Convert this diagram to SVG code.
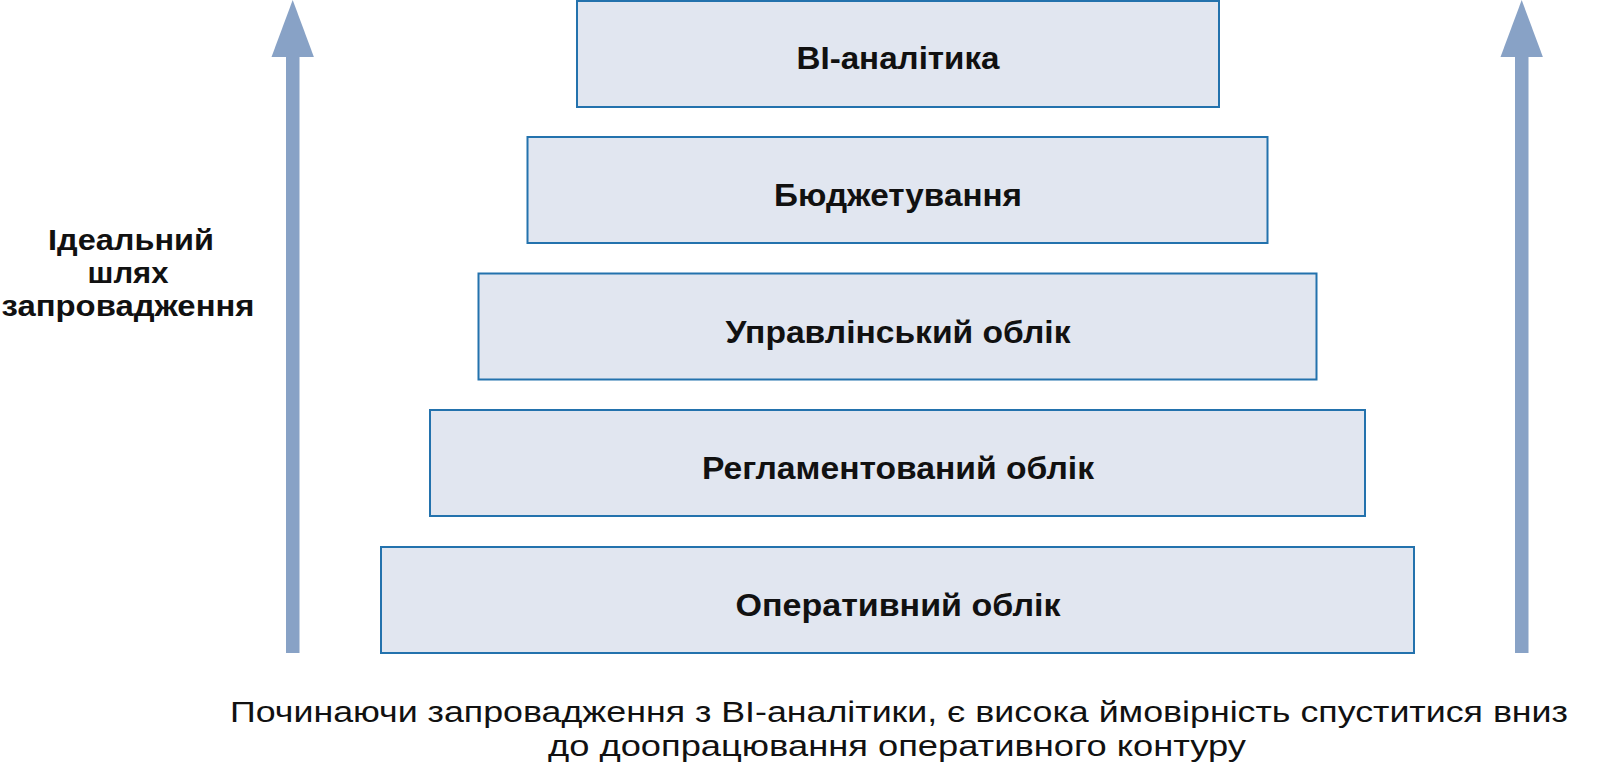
<svg xmlns="http://www.w3.org/2000/svg" width="1600" height="782" viewBox="0 0 1600 782">
  <style>
    .box { fill: #E1E6F0; stroke: #2372AD; stroke-width: 2; }
    .lbl { font-family: "Liberation Sans", Arial, sans-serif; font-size: 31px; font-weight: 700; fill: #111111; text-anchor: middle; }
    .side { font-family: "Liberation Sans", Arial, sans-serif; font-size: 29px; font-weight: 700; fill: #111111; text-anchor: middle; }
    .cap { font-family: "Liberation Sans", Arial, sans-serif; font-size: 29px; font-weight: 400; fill: #111111; text-anchor: middle; }
    .arrow { fill: #88A2C6; }
  </style>
  <rect width="1600" height="782" fill="#ffffff"/>
  <g id="connectors">
    <g id="arrow-left">
      <rect class="arrow" x="286" y="56" width="13.5" height="597"/>
      <polygon class="arrow" points="292.7,0 271.5,57 313.9,57"/>
    </g>
    <g id="arrow-right">
      <rect class="arrow" x="1515" y="56" width="13.5" height="597"/>
      <polygon class="arrow" points="1521.7,0 1500.5,57 1542.9,57"/>
    </g>
  </g>
  <g id="node-bi">
    <rect class="box" x="577" y="1" width="642" height="106"/>
    <text class="lbl" x="898" y="69" textLength="203" lengthAdjust="spacingAndGlyphs">BI-аналітика</text>
  </g>
  <g id="node-budget">
    <rect class="box" x="527.5" y="137" width="740" height="106"/>
    <text class="lbl" x="898" y="206" textLength="248" lengthAdjust="spacingAndGlyphs">Бюджетування</text>
  </g>
  <g id="node-mgmt">
    <rect class="box" x="478.5" y="273.5" width="838" height="106"/>
    <text class="lbl" x="898" y="343" textLength="345" lengthAdjust="spacingAndGlyphs">Управлінський облік</text>
  </g>
  <g id="node-reg">
    <rect class="box" x="430" y="410" width="935" height="106"/>
    <text class="lbl" x="898" y="479" textLength="392" lengthAdjust="spacingAndGlyphs">Регламентований облік</text>
  </g>
  <g id="node-oper">
    <rect class="box" x="381" y="547" width="1033" height="106"/>
    <text class="lbl" x="898" y="616" textLength="325" lengthAdjust="spacingAndGlyphs">Оперативний облік</text>
  </g>
  <g id="label-left">
    <text class="side"><tspan x="131" y="250" textLength="166" lengthAdjust="spacingAndGlyphs">Ідеальний</tspan><tspan x="128" y="283" textLength="81" lengthAdjust="spacingAndGlyphs">шлях</tspan><tspan x="128" y="316" textLength="253" lengthAdjust="spacingAndGlyphs">запровадження</tspan></text>
  </g>
  <g id="caption">
    <text class="cap"><tspan x="899" y="722" textLength="1338" lengthAdjust="spacingAndGlyphs">Починаючи запровадження з BI-аналітики, є висока ймовірність спуститися вниз</tspan><tspan x="897" y="756" textLength="698" lengthAdjust="spacingAndGlyphs">до доопрацювання оперативного контуру</tspan></text>
  </g>
</svg>
